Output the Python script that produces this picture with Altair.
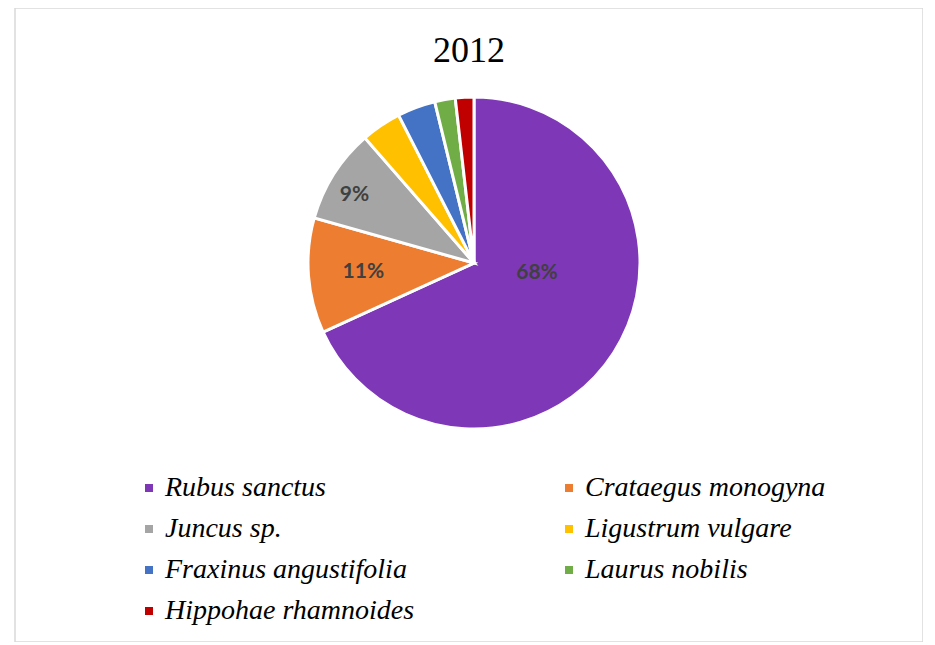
import altair as alt
import pandas as pd

species = ["Rubus sanctus", "Crataegus monogyna", "Juncus sp.", "Ligustrum vulgare",
           "Fraxinus angustifolia", "Laurus nobilis", "Hippohae rhamnoides"]
shares = [68.1, 11.2, 9.2, 3.9, 3.7, 2.0, 1.8]
labels = ["68%", "11%", "9%", "", "", "", ""]
colors = ["#7E38B7", "#ED7D31", "#A5A5A5", "#FFC000", "#4472C4", "#70AD47", "#C00000"]

df = pd.DataFrame({"species": species, "share": shares, "label": labels,
                   "idx": list(range(len(species)))})

CX, CY, R = 459, 255, 166
SERIF = "Liberation Serif"

theta_scale = alt.Scale(domain=[0, sum(shares)])

pie = alt.Chart(df).mark_arc(outerRadius=R, stroke="white", strokeWidth=3).encode(
    theta=alt.Theta("share:Q", stack=True, scale=theta_scale),
    order=alt.Order("idx:Q"),
    x=alt.value(CX), y=alt.value(CY),
    color=alt.Color("species:N", sort=species,
                    scale=alt.Scale(domain=species, range=colors),
                    legend=alt.Legend(
                        title=None, orient="none", legendX=120, legendY=466,
                        columns=2, symbolType="square", symbolSize=64,
                        symbolStrokeWidth=0,
                        labelFont=SERIF, labelFontStyle="oblique",
                        labelFontSize=28, labelColor="#000000", labelLimit=500,
                        labelOffset=2, rowPadding=13, columnPadding=140,
                        direction="horizontal")),
)

txt_style = dict(font="Lato", fontWeight="bold", fontSize=21, color="#404040",
                 align="center", baseline="middle")

lab_base = alt.Chart(df).transform_window(
    cum="sum(share)", sort=[alt.SortField("idx")], frame=[None, 0]
).transform_calculate(
    mid="datum.cum - datum.share / 2"
).encode(
    theta=alt.Theta("mid:Q", stack=None, scale=theta_scale),
    x=alt.value(CX), y=alt.value(CY),
    text="label:N",
)

lab1 = lab_base.mark_text(radius=63, dx=10, dy=-24, **txt_style).transform_filter(alt.datum.idx == 0)
lab2 = lab_base.mark_text(radius=111, dy=0, **txt_style).transform_filter(alt.datum.idx == 1)
lab3 = lab_base.mark_text(radius=138, dx=-3, dy=6, **txt_style).transform_filter(alt.datum.idx == 2)

chart = alt.layer(pie, lab1, lab2, lab3).properties(
    width=908, height=634,
    autosize=alt.AutoSizeParams(type="none"),
    padding={"left": 7, "top": 0, "right": 0, "bottom": 0},
    title=alt.TitleParams("2012", font=SERIF, fontSize=36,
                          fontWeight="normal", color="#000000", anchor="middle",
                          baseline="alphabetic", offset=0, dy=90),
).configure_view(stroke="#D9D9D9", strokeWidth=1.5)

chart.save("out.html", embed_options={"renderer": "svg", "actions": False})
